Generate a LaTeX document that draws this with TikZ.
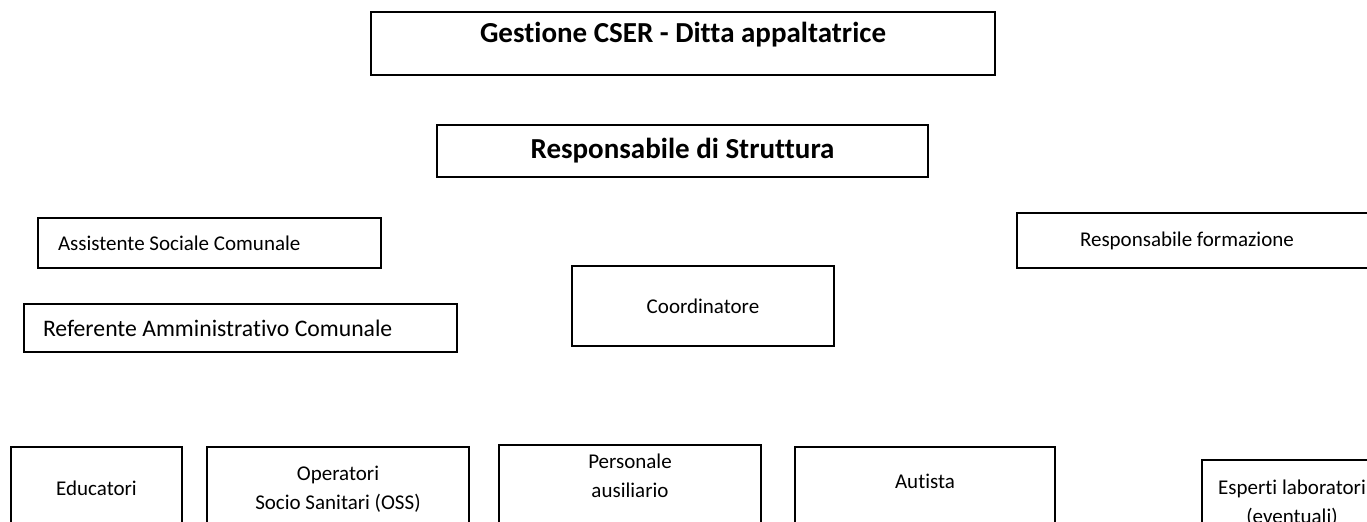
\documentclass[tikz,border=0pt]{standalone}
\usepackage{fontspec}
\setmainfont[Ligatures=NoCommon]{Carlito}
\begin{document}
\begin{tikzpicture}[x=0.5pt, y=-0.5pt,
  box/.style={rectangle, draw, line width=0.6pt, inner sep=0pt, align=center, font=\fontsize{10.5}{14.5}\selectfont},
  title/.style={box, font=\fontsize{14.5}{17}\selectfont\bfseries}]
\useasboundingbox (0,0) rectangle (1367,522);
\clip (0,0) rectangle (1367,522);
\node[title, minimum width=312pt, text height=15.5pt, text depth=16pt] (Gestione) at (683,43.5) {Gestione CSER - Ditta appaltatrice};
\node[title, minimum width=245.5pt, minimum height=26pt] (RespStruttura) at (682.5,151) {Responsabile di Struttura};
\node[box, minimum height=25pt, text width=151.5pt, inner xsep=10pt, align=flush left] (AssSociale) at (209.5,243) {Assistente Sociale Comunale};
\node[box, minimum height=24pt, text width=197.5pt, inner xsep=9.5pt, align=flush left, font=\fontsize{11.85}{14.5}\selectfont] (RefAmm) at (240.5,328) {Referente Amministrativo Comunale};
\node[box, minimum width=131pt, minimum height=40pt] (Coordinatore) at (703,306) {Coordinatore};
\node[box, minimum height=27.5pt, text width=128.5pt, inner xsep=31.5pt, align=flush left] (RespFormazione) at (1208.5,240.5) {Responsabile formazione};
\node[box, minimum width=85.5pt, minimum height=41pt] (Educatori) at (96.5,488) {Educatori};
\node[box, minimum width=131pt, minimum height=42.5pt] (OSS) at (338,489.5) {Operatori\\Socio Sanitari (OSS)};
\node[box, minimum width=131pt, text height=26.5pt, text depth=31pt] (Personale) at (630,502.5) {Personale\\ausiliario};
\node[box, minimum width=130pt, text height=21pt, text depth=35.5pt] (Autista) at (925,503.5) {Autista};
\node[box, minimum width=90pt, minimum height=43.5pt] (Esperti) at (1292,503.5) {Esperti laboratori\\(eventuali)};
\end{tikzpicture}
\end{document}
